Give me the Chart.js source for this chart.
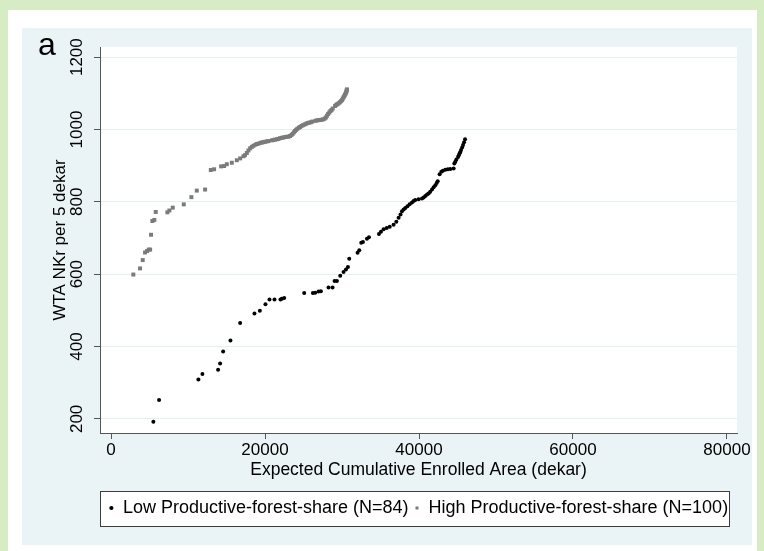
<!DOCTYPE html>
<html>
<head>
<meta charset="utf-8">
<script src="https://cdn.jsdelivr.net/npm/chart.js@4.4.1/dist/chart.umd.min.js"></script>
<style>
  html, body { margin: 0; padding: 0; }
  body { width: 764px; height: 551px; background: #d7ebc5; position: relative; overflow: hidden; }
  #frame { position: absolute; left: 8px; top: 10px; width: 749px; height: 541px; background: #fff; }
  #chart { position: absolute; left: 14px; top: 18px; background: #eaf3f6; }
</style>
</head>
<body>
<div id="frame"><canvas id="chart" width="730" height="517"></canvas></div>
<script>
// Low productive-forest-share (N=84)
const lowX = [5500, 6240, 11350, 11870, 13910, 14170, 14560, 15510, 16770, 18630,
  19330, 20060, 20580, 21230, 22010, 22190, 22490, 25090, 26220, 26520,
  26950, 27260, 28250, 28770, 29030, 29340, 29770, 30200, 30510, 30770,
  30940, 32020, 32240, 32500, 32720, 33240, 33500, 34800, 35060, 35400,
  35800, 36200, 36700, 37050, 37350, 37600, 37790, 38000, 38220, 38500,
  38780, 39090, 39300, 39520, 39950, 40390, 40600, 40820, 41050, 41250,
  41450, 41690, 41900, 42120, 42300, 42430, 42680, 42900, 43100, 43420,
  43750, 44070, 44500, 44590, 44720, 44850, 45070, 45170, 45280, 45370,
  45460, 45600, 45720, 45850, 45980];
const lowY = [192, 252, 309, 324, 336, 353, 386, 417, 465, 491,
  499, 517, 530, 530, 530, 532, 534, 548, 548, 549,
  552, 553, 563, 563, 581, 581, 596, 606, 613, 620,
  643, 659, 666, 687, 689, 698, 702, 711, 717, 724,
  728, 731, 737, 745, 756, 765, 774, 779, 783, 788,
  793, 798, 802, 805, 807, 809, 812, 816, 820, 823,
  828, 834, 840, 846, 852, 857, 876, 883, 886, 889,
  890, 891, 892, 906, 911, 917, 924, 929, 934, 938,
  943, 950, 957, 965, 973];

// High productive-forest-share (N=100)
const highX = [2900, 3770, 4120, 4420, 4680, 4900, 5080, 5200, 5370, 5630,
  5810, 7320, 7580, 8020, 9450, 10440, 11140, 12220, 12960, 13390,
  14300, 14690, 15040, 15690, 16340, 16770, 17200, 17400, 17640, 17850,
  18070, 18300, 18500, 18750, 18950, 19150, 19400, 19600, 19800, 20000,
  20250, 20450, 20900, 21100, 21300, 21550, 21750, 21950, 22200, 22400,
  22600, 22850, 23050, 23250, 23450, 23600, 23750, 23900, 24050, 24200,
  24400, 24570, 24750, 24950, 25150, 25350, 25550, 25750, 25950, 26150,
  26550, 26750, 26950, 27150, 27350, 27550, 27750, 27900, 28050, 28200,
  28350, 28500, 28650, 28800, 29100, 29250, 29400, 29550, 29700, 29850,
  29990, 30100, 30200, 30290, 30380, 30460, 30520, 30570, 30610, 30640];
const highY = [599, 616, 639, 660, 664, 668, 668, 709, 747, 750,
  772, 771, 776, 784, 793, 813, 831, 834, 888, 890,
  898, 899, 904, 908, 915, 920, 926, 929, 935, 942,
  948, 952, 955, 958, 960, 961, 963, 964, 965, 966,
  967, 968, 970, 971, 972, 973, 974, 976, 977, 978,
  979, 980, 980, 982, 985, 988, 992, 996, 999, 1002,
  1005, 1007, 1010, 1012, 1014, 1016, 1018, 1019, 1020, 1022,
  1024, 1025, 1026, 1026, 1027, 1028, 1030, 1033, 1038, 1043,
  1047, 1051, 1054, 1058, 1065, 1068, 1070, 1072, 1075, 1078,
  1081, 1085, 1089, 1092, 1096, 1099, 1102, 1105, 1108, 1111];

const xTicks = [0, 20000, 40000, 60000, 80000];
const yTicks = [200, 400, 600, 800, 1000, 1200];
const seriesNames = ['Low Productive-forest-share (N=84)', 'High Productive-forest-share (N=100)'];

const FONT = '"Liberation Sans", Arial, Helvetica, sans-serif';

const toPoints = (xs, ys) => xs.map((x, i) => ({ x: x, y: ys[i] }));

// white plot region + boxed legend, panel letter
const panelPlugin = {
  id: 'panel',
  beforeDraw(chart) {
    const { ctx, chartArea: a, legend } = chart;
    ctx.save();
    ctx.fillStyle = '#fff';
    ctx.fillRect(a.left, a.top, a.right - a.left, a.bottom - a.top);
    const boxes = legend.legendHitBoxes || [];
    if (boxes.length) {
      const first = boxes[0], last = boxes[boxes.length - 1];
      const cy = first.top + first.height / 2;
      const x0 = Math.round(first.left - 9), x1 = Math.round(last.left + last.width + 1);
      const y0 = Math.round(cy - 17.5);
      ctx.fillRect(x0, y0, x1 - x0, 35);
      ctx.strokeStyle = '#3c3c3c';
      ctx.lineWidth = 1;
      ctx.strokeRect(x0 + 0.5, y0 + 0.5, x1 - x0, 35);
    }
    ctx.restore();
  },
  afterDraw(chart) {
    const ctx = chart.ctx;
    ctx.save();
    ctx.fillStyle = '#000';
    ctx.font = '32px ' + FONT;
    ctx.textBaseline = 'alphabetic';
    ctx.fillText('a', 16, 27);
    ctx.restore();
  }
};

new Chart(document.getElementById('chart'), {
  type: 'scatter',
  data: {
    datasets: [{
      label: seriesNames[0],
      data: toPoints(lowX, lowY),
      pointStyle: 'circle',
      pointRadius: 2,
      backgroundColor: '#000',
      borderWidth: 0
    }, {
      label: seriesNames[1],
      data: toPoints(highX, highY),
      pointStyle: 'rect',
      pointRadius: 2.8,
      backgroundColor: '#7b7b7b',
      borderWidth: 0
    }]
  },
  options: {
    responsive: false,
    animation: false,
    devicePixelRatio: 1,
    layout: { padding: { top: 19, right: 15, bottom: 18, left: 0 } },
    plugins: {
      tooltip: { enabled: false },
      legend: {
        position: 'bottom',
        fullSize: false,
        labels: {
          usePointStyle: true,
          boxWidth: 5,
          boxHeight: 3,
          padding: 6,
          color: '#000',
          font: { family: FONT, size: 18 }
        }
      }
    },
    scales: {
      x: {
        type: 'linear',
        min: -1430,
        max: 81300,
        afterBuildTicks: s => { s.ticks = xTicks.map(v => ({ value: v })); },
        afterFit: s => { s.height = 60; },
        border: { display: true, color: '#555', width: 1 },
        grid: { drawOnChartArea: false, drawTicks: true, tickLength: 6, tickColor: '#555' },
        ticks: {
          padding: 1,
          color: '#000',
          font: { family: FONT, size: 17 },
          maxRotation: 0,
          callback: v => String(v)
        },
        title: {
          display: true,
          text: 'Expected Cumulative Enrolled Area (dekar)',
          color: '#000',
          font: { family: FONT, size: 17.5 },
          padding: { top: 0, bottom: 12.5 }
        }
      },
      y: {
        type: 'linear',
        min: 161,
        max: 1228,
        afterBuildTicks: s => { s.ticks = yTicks.map(v => ({ value: v })); },
        afterFit: s => { s.width = 78; },
        border: { display: true, color: '#555', width: 1 },
        grid: { color: '#e3eff3', lineWidth: 1, drawTicks: true, tickLength: 6, tickColor: '#555' },
        ticks: {
          padding: -2,
          minRotation: 90,
          maxRotation: 90,
          crossAlign: 'center',
          color: '#000',
          font: { family: FONT, size: 17 },
          callback: v => String(v)
        },
        title: {
          display: true,
          text: 'WTA NKr per 5 dekar',
          color: '#000',
          font: { family: FONT, size: 17 },
          padding: { top: 28, bottom: 0 }
        }
      }
    }
  },
  plugins: [panelPlugin]
});
</script>
</body>
</html>
